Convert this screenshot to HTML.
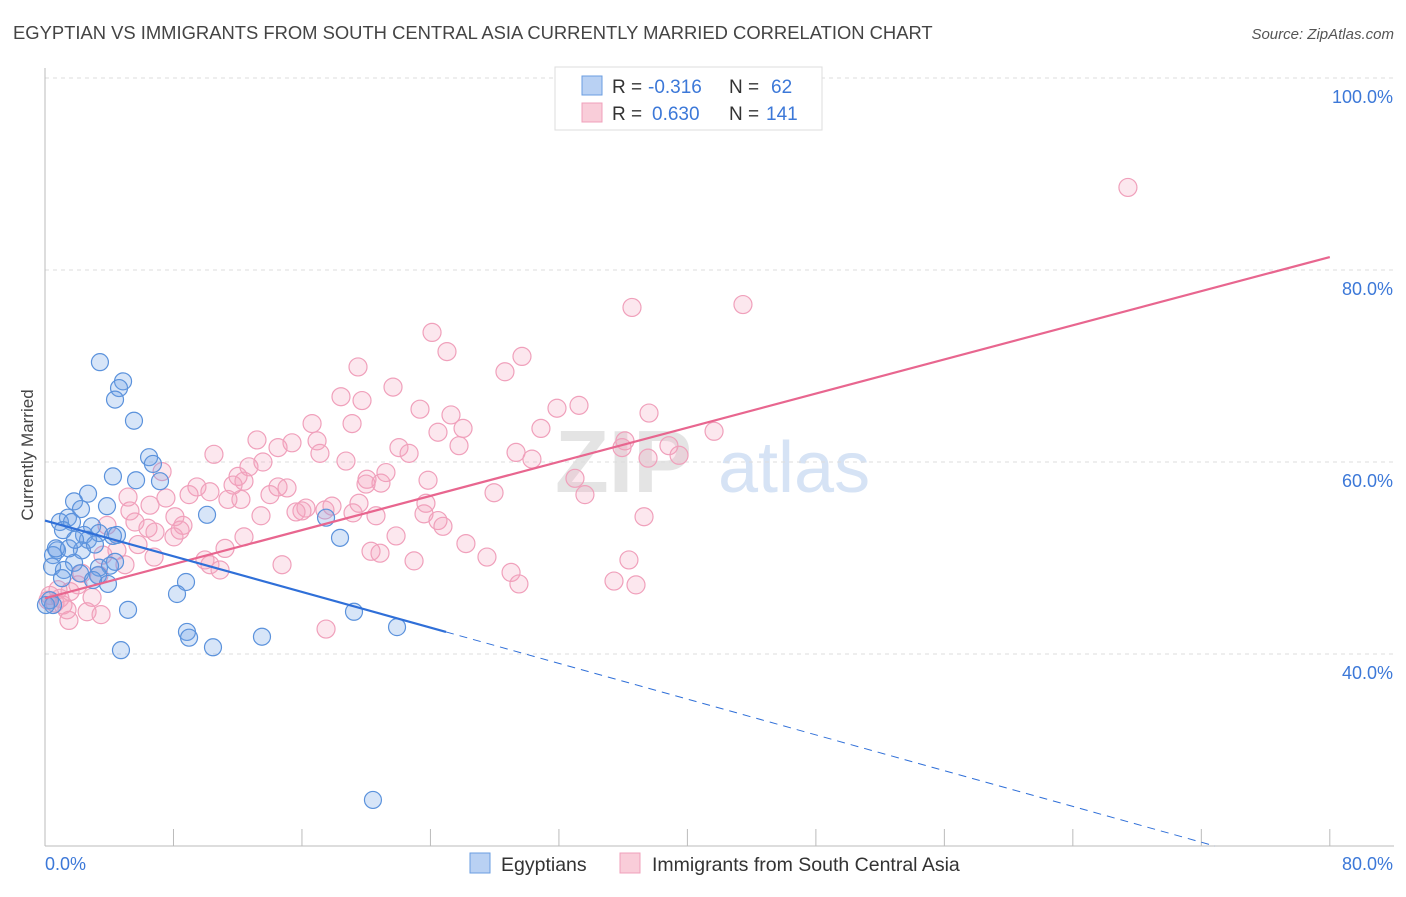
<!DOCTYPE html>
<html><head><meta charset="utf-8"><style>
body{margin:0;background:#fff;font-family:"Liberation Sans",sans-serif}
svg text{font-family:"Liberation Sans",sans-serif}
</style></head><body>
<svg id="chart" width="1406" height="892" xmlns="http://www.w3.org/2000/svg">
<text x="13" y="39" font-size="18.4" fill="#444">EGYPTIAN VS IMMIGRANTS FROM SOUTH CENTRAL ASIA CURRENTLY MARRIED CORRELATION CHART</text>
<text x="1394" y="39" font-size="15" fill="#555" text-anchor="end" font-style="italic">Source: ZipAtlas.com</text>
<g><text x="555" y="492" font-size="88" fill="#e4e4e4" font-family="Liberation Serif" font-weight="bold">ZIP</text><text x="718" y="492" font-size="72" fill="#d6e3f5">atlas</text></g>
<g id="grid"></g><g id="axes"></g><g id="marks"></g><g id="lines"></g>
<text transform="translate(33,455) rotate(-90)" font-size="17" fill="#444" text-anchor="middle">Currently Married</text>
<g>
<rect x="555" y="67" width="267" height="63" fill="#fff" stroke="#ddd"/>
<rect x="582" y="76" width="20" height="19" fill="#b9d1f3" stroke="#6a9de0"/>
<rect x="582" y="103" width="20" height="19" fill="#f9cdd9" stroke="#f0a0bb"/>
<text x="612" y="93" font-size="19" fill="#333">R =</text><text x="648" y="93" font-size="19" fill="#3c78d8">-0.316</text>
<text x="729" y="93" font-size="19" fill="#333">N =</text><text x="771" y="93" font-size="19" fill="#3c78d8">62</text>
<text x="612" y="120" font-size="19" fill="#333">R =</text><text x="652" y="120" font-size="19" fill="#3c78d8">0.630</text>
<text x="729" y="120" font-size="19" fill="#333">N =</text><text x="766" y="120" font-size="19" fill="#3c78d8">141</text>
</g>
<g>
<rect x="470" y="853" width="20" height="20" fill="#b9d1f3" stroke="#6a9de0"/>
<text x="501" y="871" font-size="19.5" fill="#333">Egyptians</text>
<rect x="620" y="853" width="20" height="20" fill="#f9cdd9" stroke="#f0a0bb"/>
<text x="652" y="871" font-size="19.5" fill="#333">Immigrants from South Central Asia</text>
</g>
</svg>
<script>
const blueX=[3.42,4.86,4.61,4.36,5.54,6.48,6.72,4.23,5.67,7.16,2.68,1.81,3.86,2.24,1.43,0.93,1.68,2.93,1.12,3.36,2.43,4.48,4.23,2.68,0.75,2.30,0.50,4.36,1.81,0.44,1.18,3.36,4.05,2.18,3.30,1.06,2.99,3.92,8.78,8.22,0.31,0.50,5.17,19.24,21.92,8.84,8.97,13.51,10.46,4.73,20.42,10.09,17.50,18.37,0.06,0.68,1.49,3.11,1.87];
const blueY=[70.4,68.4,67.7,66.5,64.3,60.5,59.8,58.5,58.1,58.0,56.7,55.9,55.4,55.1,54.2,53.75,53.75,53.3,52.9,52.6,52.4,52.4,52.3,51.9,50.8,50.8,50.3,49.6,49.5,49.1,48.75,49.0,49.2,48.4,48.2,47.9,47.7,47.3,47.5,46.25,45.6,45.1,44.6,44.4,42.8,42.3,41.7,41.8,40.7,40.4,24.8,54.5,54.2,52.1,45.1,51.0,51.0,51.4,51.9];
const pinkX=[67.43,43.46,36.55,24.10,25.03,29.70,19.49,28.64,21.67,18.43,19.74,23.35,31.88,33.25,37.61,25.28,16.63,19.12,26.03,24.47,41.66,30.88,13.20,15.38,16.94,14.51,25.78,36.11,38.85,35.93,22.04,17.12,22.67,10.52,37.55,39.48,30.32,13.57,18.74,29.33,12.70,7.29,12.02,21.23,20.05,33.0,12.39,23.85,9.46,11.71,20.92,19.99,14.51,10.27,8.97,14.01,15.07,7.53,5.17,12.20,11.39,19.55,33.62,27.96,23.72,16.25,17.87,16.0,15.63,17.43,19.18,5.29,13.45,20.61,23.60,37.30,8.09,5.60,3.86,6.41,24.47,24.78,8.59,6.85,8.03,12.39,21.86,26.21,5.79,11.21,4.48,3.61,6.79,20.30,20.86,27.52,36.36,22.98,10.27,4.98,10.90,14.76,2.30,3.36,29.02,35.43,36.80,29.51,2.05,0.81,1.56,0.31,2.93,0.62,1.12,1.37,2.62,3.49,1.49,17.50,0.19,0.93,6.54,8.41,9.96];
const pinkY=[88.6,76.4,76.1,73.5,71.5,71.0,69.9,69.4,67.8,66.8,66.4,65.5,65.6,65.9,65.1,64.9,64.0,64.0,63.5,63.1,63.2,63.5,62.3,62.0,62.2,61.5,61.7,62.2,61.7,61.5,61.5,60.9,60.9,60.8,60.4,60.7,60.3,60.0,60.1,61.0,59.5,59.0,58.5,58.9,58.2,58.3,58.0,58.1,57.4,57.6,57.8,57.7,57.4,56.9,56.6,56.6,57.3,56.25,56.35,56.1,56.1,55.7,56.6,56.8,55.7,55.2,55.4,54.9,54.8,55.0,54.7,54.9,54.4,54.4,54.6,54.3,54.3,53.75,53.4,53.1,53.9,53.3,53.4,52.7,52.2,52.2,52.3,51.5,51.4,51.0,50.8,50.3,50.1,50.7,50.5,50.1,49.8,49.7,49.3,49.3,48.75,49.3,48.4,48.2,48.5,47.6,47.2,47.3,47.2,46.7,46.5,46.1,45.9,45.3,45.1,44.6,44.4,44.1,43.5,42.6,45.6,45.8,55.5,52.9,49.8];
const blueTrend=[[0,53.9],[24.97,42.3]];
const blueTrendExt=[[24.97,42.3],[72.85,20]];
const pinkTrend=[[0,45.8],[80,81.35]];
const yTicks=[40,60,80,100];
const xTicks=[0,8,16,24,32,40,48,56,64,72,80];
const NS='http://www.w3.org/2000/svg';
const sx=v=>45+v*16.06, sy=v=>78+(100-v)*9.6;
function mk(t,a,p){const e=document.createElementNS(NS,t);for(const k in a)e.setAttribute(k,a[k]);document.getElementById(p).appendChild(e);return e;}
yTicks.forEach(v=>{
 const g=mk('line',{x1:45,x2:1394,y1:sy(v),y2:sy(v),stroke:'#ddd','stroke-dasharray':'4,4'},'grid');
 
 
 const t=mk('text',{x:1393,y:sy(v)+25,'font-size':18,fill:'#3c78d8','text-anchor':'end'},'axes');
 t.textContent=v.toFixed(1)+'%';
 
 
});
let ax=mk('line',{x1:45,x2:45,y1:68,y2:846,stroke:'#bbb'},'axes');


ax=mk('line',{x1:45,x2:1394,y1:846,y2:846,stroke:'#bbb'},'axes');


xTicks.forEach(v=>{
 const l=mk('line',{x1:sx(v),x2:sx(v),y1:829,y2:846,stroke:'#bbb'},'axes');
 
 
});
[[0,'start'],[80,'end']].forEach(([v,a])=>{
 const t=mk('text',{x:v?1393:45,y:870,'font-size':18,fill:'#3c78d8','text-anchor':a},'axes');
 t.textContent=v.toFixed(1)+'%';
 
 
});
pinkX.forEach((x,i)=>{
 const c=mk('circle',{cx:sx(x),cy:sy(pinkY[i]),r:9,fill:'rgba(244,160,188,0.25)',stroke:'#f0a0bb','stroke-width':1.2},'marks');
 
 
});
blueX.forEach((x,i)=>{
 const c=mk('circle',{cx:sx(x),cy:sy(blueY[i]),r:8.5,fill:'rgba(110,160,230,0.28)',stroke:'#5b92dc','stroke-width':1.2},'marks');
 
 
});
let L=mk('line',{x1:sx(pinkTrend[0][0]),y1:sy(pinkTrend[0][1]),x2:sx(pinkTrend[1][0]),y2:sy(pinkTrend[1][1]),stroke:'#e8668f','stroke-width':2.2},'lines');


L=mk('line',{x1:sx(blueTrend[0][0]),y1:sy(blueTrend[0][1]),x2:sx(blueTrend[1][0]),y2:sy(blueTrend[1][1]),stroke:'#2f6fd8','stroke-width':2.2},'lines');


L=mk('line',{x1:sx(blueTrendExt[0][0]),y1:sy(blueTrendExt[0][1]),x2:sx(blueTrendExt[1][0]),y2:sy(blueTrendExt[1][1]),stroke:'#2f6fd8','stroke-width':1,'stroke-dasharray':'8,6'},'lines');


</script>
</body></html>
